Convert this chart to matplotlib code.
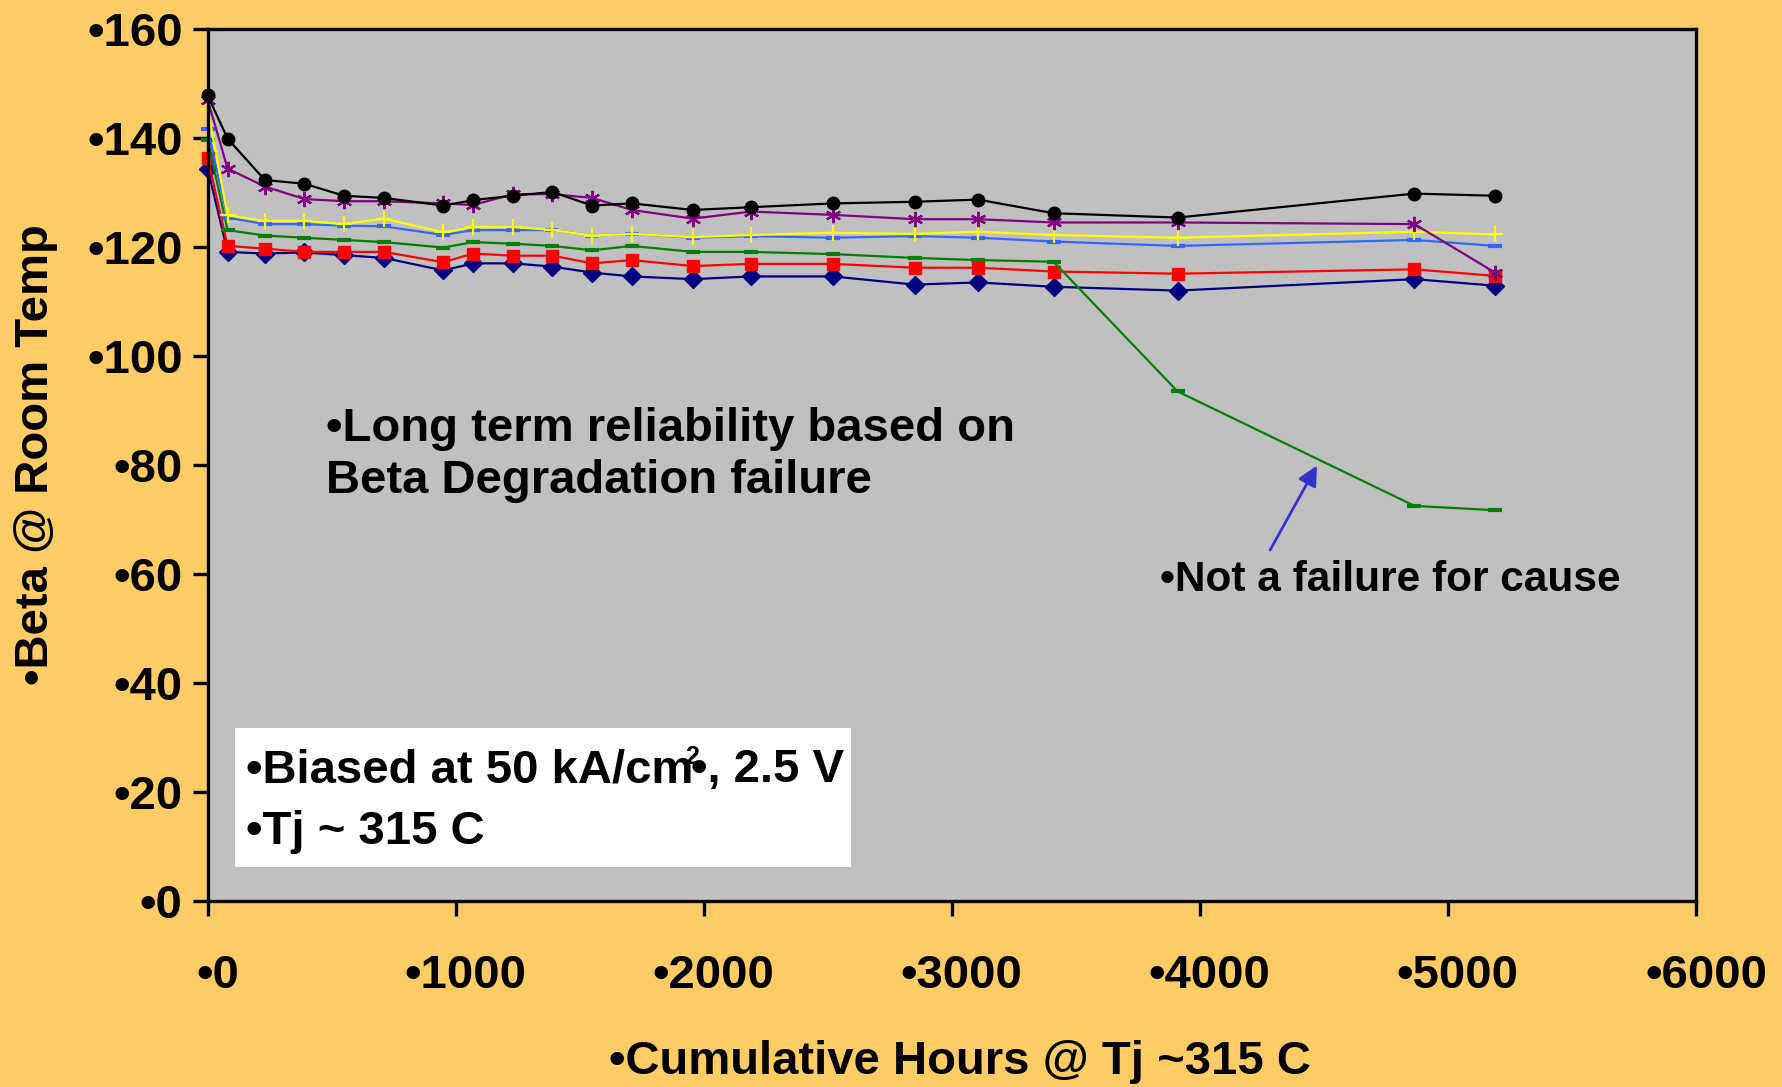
import matplotlib
matplotlib.use("Agg")
import matplotlib.pyplot as plt
from matplotlib.transforms import ScaledTranslation
from matplotlib.patches import Rectangle

# ---------------- data ----------------
hours = [0, 80, 230, 390, 550, 710, 950, 1070, 1230, 1390, 1550, 1710,
         1955, 2190, 2520, 2850, 3105, 3410, 3910, 4865, 5190]

beta_black = [147.8, 139.9, 132.3, 131.6, 129.4, 129.0, 127.6, 128.6, 129.4, 130.1, 127.6, 128.0,
              126.8, 127.3, 128.0, 128.3, 128.7, 126.2, 125.4, 129.8, 129.4]
beta_purple = [147.0, 134.4, 131.1, 128.8, 128.4, 128.4, 128.0, 127.7, 129.7, 129.7, 129.0, 126.8,
               125.2, 126.5, 125.9, 125.1, 125.1, 124.5, 124.5, 124.2, 115.3]
beta_yellow = [145.3, 125.8, 124.8, 124.8, 124.2, 125.2, 122.7, 123.6, 123.7, 123.1, 122.1, 122.4,
               121.8, 122.2, 122.6, 122.4, 122.8, 122.2, 121.7, 122.8, 122.3]
beta_blue = [141.6, 125.4, 124.2, 124.2, 123.9, 123.8, 122.2, 123.1, 123.1, 123.1, 122.1, 122.4,
             121.7, 122.0, 121.7, 122.0, 121.7, 121.0, 120.2, 121.3, 120.2]
beta_green = [139.7, 123.1, 122.1, 121.7, 121.3, 120.9, 119.9, 120.9, 120.6, 120.2, 119.4, 120.2,
              119.1, 119.1, 118.7, 118.0, 117.6, 117.3, 93.5, 72.5, 71.7]
beta_red = [136.4, 120.2, 119.7, 119.1, 119.1, 119.1, 117.2, 118.8, 118.4, 118.4, 117.0, 117.6,
            116.5, 116.9, 116.9, 116.2, 116.2, 115.5, 115.1, 115.9, 114.7]
beta_navy = [134.4, 119.1, 118.8, 119.0, 118.5, 118.0, 115.7, 117.0, 117.0, 116.4, 115.3, 114.6,
             114.1, 114.6, 114.6, 113.1, 113.5, 112.7, 112.0, 114.1, 112.9]

x_ticks = [0, 1000, 2000, 3000, 4000, 5000, 6000]
x_tick_labels = ["•0", "•1000", "•2000", "•3000", "•4000", "•5000", "•6000"]
y_ticks = [0, 20, 40, 60, 80, 100, 120, 140, 160]
y_tick_labels = ["•0", "•20", "•40", "•60", "•80", "•100", "•120", "•140", "•160"]

x_label = "•Cumulative Hours @ Tj ~315 C"
y_label = "•Beta @ Room Temp"
note_main = "•Long term reliability based on\nBeta Degradation failure"
note_fail = "•Not a failure for cause"

# ---------------- style ----------------
BG = "#FFCC66"
PLOT_BG = "#C0C0C0"
FONT = ["Liberation Sans", "DejaVu Sans"]
plt.rcParams["font.family"] = FONT
plt.rcParams["font.weight"] = "bold"
FS = 34
PX = 0.72  # points per pixel at dpi 100

fig = plt.figure(figsize=(17.83, 10.87), dpi=100, facecolor=BG)
ax = fig.add_axes([0.11649, 0.17111, 0.83472, 0.80221])
ax.set_facecolor(PLOT_BG)

series = [
    (beta_navy, "#000080", "D", 9.0, 1.0),
    (beta_red, "#FF0000", "s", 9.0, 1.0),
    (beta_green, "#008000", "_", 10.0, 3.0),
    (beta_blue, "#3366FF", "_", 10.0, 3.0),
    (beta_yellow, "#FFFF00", "+", 11.0, 1.6),
    (beta_purple, "#800080", (6, 2, 0), 11.0, 1.6),
    (beta_black, "#000000", "o", 9.0, 1.0),
]
for vals, col, mk, ms, mew in series:
    ax.plot(hours, vals, color=col, lw=1.6, marker=mk, ms=ms, mew=mew,
            mfc=col, mec=col, clip_on=False)

ax.set_xlim(0, 6000)
ax.set_ylim(0, 160)
ax.set_xticks(x_ticks)
ax.set_xticklabels(x_tick_labels)
ax.set_yticks(y_ticks)
ax.set_yticklabels(y_tick_labels)
ax.tick_params(axis="both", direction="out", length=11, width=2.4,
               labelsize=FS, colors="black")
ax.tick_params(axis="x", pad=27)
ax.tick_params(axis="y", pad=7)
for lab in ax.get_xticklabels():
    lab.set_fontweight("bold")
    lab.set_transform(lab.get_transform() + ScaledTranslation(0.10, 0, fig.dpi_scale_trans))
for lab in ax.get_yticklabels():
    lab.set_fontweight("bold")
for sp in ax.spines.values():
    sp.set_linewidth(2.4)
    sp.set_color("black")

# axis titles
fig.text(36 / 1783, 1 - 455 / 1087, y_label, rotation=90, ha="center", va="center",
         fontsize=FS, fontweight="bold")
fig.text(960 / 1783, 1 - 1062 / 1087, x_label, ha="center", va="center",
         fontsize=FS, fontweight="bold")

# annotations
ax.text(477, 81.9, note_main, ha="left", va="center", fontsize=FS,
        fontweight="bold", linespacing=1.24)
ax.text(3840, 58.9, note_fail, ha="left", va="center", fontsize=30.5, fontweight="bold")
ax.annotate("", xy=(4472, 79.9), xytext=(4283, 64.4),
            arrowprops=dict(arrowstyle="-|>", color="#3333CC", lw=2,
                            mutation_scale=30, shrinkA=0, shrinkB=0))

# white info box
ax.add_patch(Rectangle((110, 6.3), 2482, 25.5, facecolor="white", edgecolor="none", zorder=3))
t1 = ax.text(153, 21.8, "•Biased at 50 kA/cm", ha="left", va="baseline",
             fontsize=FS, fontweight="bold", zorder=4)
ax.annotate("•, 2.5 V", xy=(1, 0), xycoords=t1, xytext=(-2 * PX, 0),
            textcoords="offset points", ha="left", va="bottom",
            fontsize=FS, fontweight="bold", zorder=4)
ax.annotate("2", xy=(1, 1), xycoords=t1, xytext=(-1 * PX, 3 * PX),
            textcoords="offset points", ha="center", va="top",
            fontsize=18, fontweight="bold", zorder=4)
ax.text(153, 10.4, "•Tj ~ 315 C", ha="left", va="baseline",
        fontsize=FS, fontweight="bold", zorder=4)

fig.savefig("out.png", dpi=100, facecolor=BG)
